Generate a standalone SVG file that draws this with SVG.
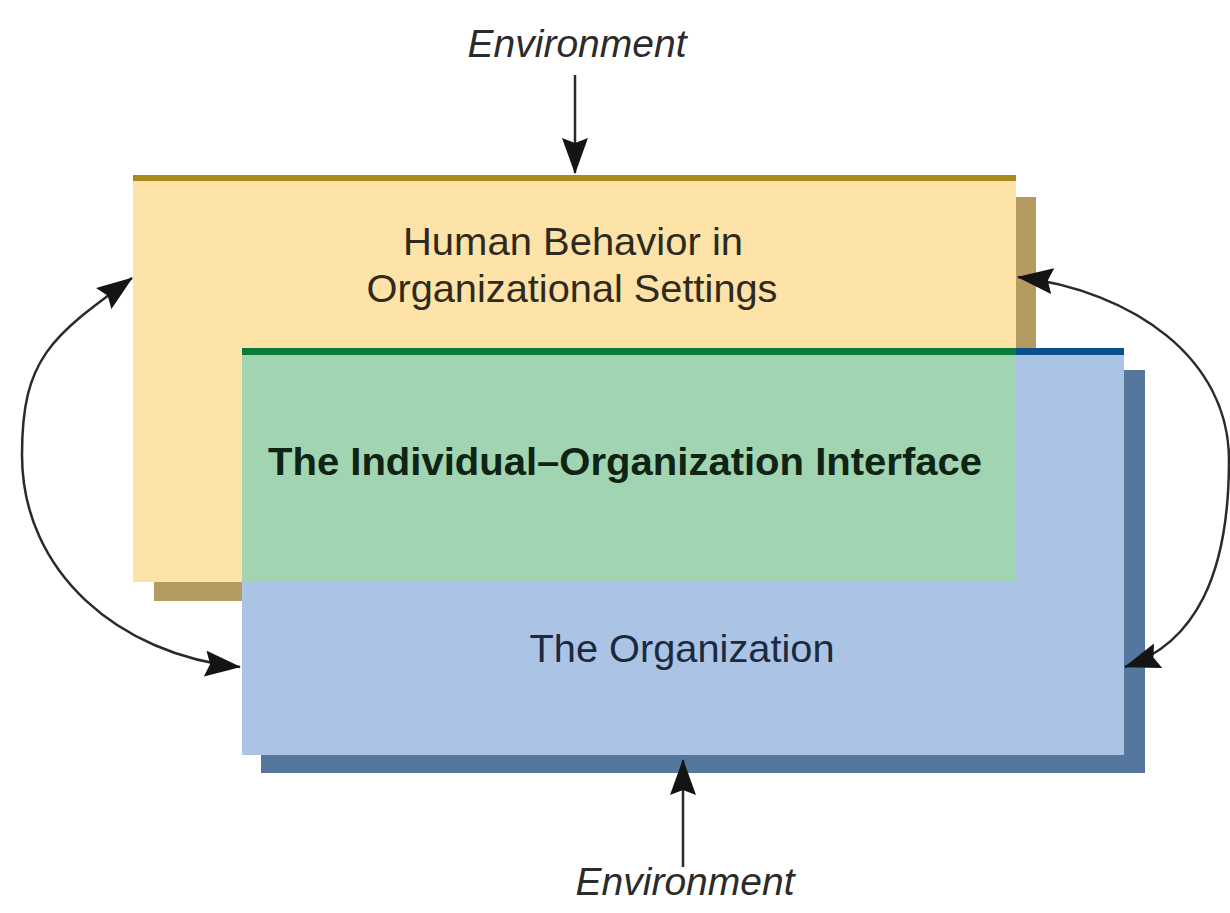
<svg xmlns="http://www.w3.org/2000/svg" width="1230" height="913" viewBox="0 0 1230 913">
  <style>
    .lbl { font-family: "Liberation Sans", Arial, sans-serif; font-size: 39px; text-anchor: middle; }
    .env { font-style: italic; fill: #2b2b2b; }
    .conn { fill: none; stroke: #2a2a2a; stroke-width: 2.5; }
  </style>
  <defs>
    <marker id="ah" markerUnits="userSpaceOnUse" markerWidth="36" markerHeight="26" refX="35" refY="13" orient="auto-start-reverse" viewBox="0 0 36 26">
      <path d="M0,0 L36,13 L0,26 L5,13 z" fill="#141414"/>
    </marker>
  </defs>
  <rect width="1230" height="913" fill="#ffffff"/>

  <g id="human-behavior">
    <rect x="154" y="197" width="882" height="404" fill="#b39b62"/>
    <rect x="133" y="175" width="883" height="407" fill="#fde3a8"/>
    <rect x="133" y="175" width="883" height="6" fill="#a88a1c"/>
    <text class="lbl" x="573" y="255" fill="#2e2a1e" textLength="340" lengthAdjust="spacingAndGlyphs">Human Behavior in</text>
    <text class="lbl" x="572" y="302" fill="#2e2a1e" textLength="411" lengthAdjust="spacingAndGlyphs">Organizational Settings</text>
  </g>

  <g id="organization">
    <rect x="261" y="370" width="884" height="403" fill="#55779e"/>
    <rect x="242" y="348" width="882" height="407" fill="#abc4e6"/>
    <rect x="1016" y="348" width="108" height="7" fill="#0b4f8a"/>
    <text class="lbl" x="682" y="662" fill="#1c2a3e" textLength="305" lengthAdjust="spacingAndGlyphs">The Organization</text>
  </g>

  <g id="interface">
    <rect x="242" y="348" width="774" height="234" fill="#a1d4b1"/>
    <rect x="242" y="348" width="774" height="7" fill="#0a7a3a"/>
    <text class="lbl" x="625" y="475" fill="#0f2414" font-weight="bold" textLength="714" lengthAdjust="spacingAndGlyphs">The Individual–Organization Interface</text>
  </g>

  <g id="env-top">
    <text class="lbl env" x="577" y="57">Environment</text>
  </g>
  <g id="env-bottom">
    <text class="lbl env" x="685" y="895">Environment</text>
  </g>

  <g id="connectors">
    <path class="conn" d="M575,75 L575,173" marker-end="url(#ah)"/>
    <path class="conn" d="M683,867 L683,760" marker-end="url(#ah)"/>
    <path class="conn" d="M132,278 C51,337 22,358 22,455 C22,572 119,655 240,667" marker-start="url(#ah)" marker-end="url(#ah)"/>
    <path class="conn" d="M1018,277 C1134,291 1229,359 1229,460 C1229,574 1196,643 1125,667" marker-start="url(#ah)" marker-end="url(#ah)"/>
  </g>
</svg>
